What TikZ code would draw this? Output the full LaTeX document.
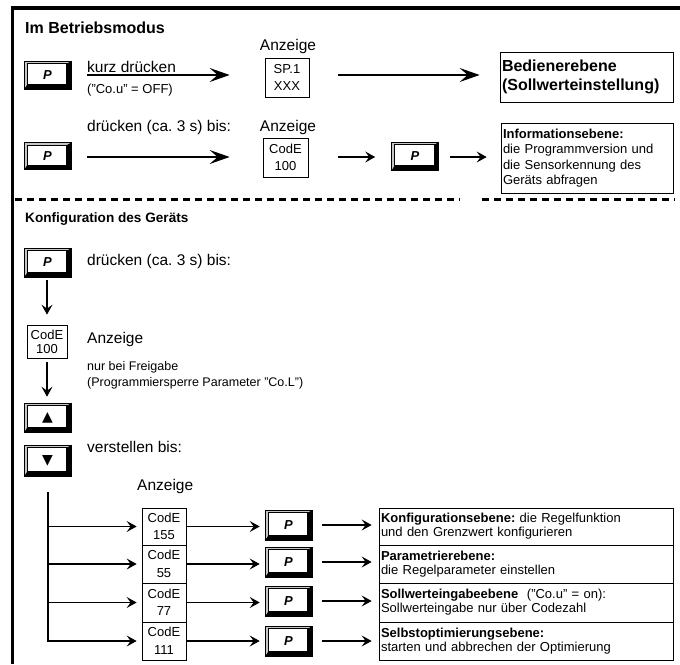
\documentclass[tikz,border=0pt]{standalone}
\usepackage{fontspec}
\setmainfont{Liberation Sans}
\newfontfamily\dejavu{DejaVu Sans}
\usetikzlibrary{arrows.meta}
\frenchspacing
\begin{document}
\begin{tikzpicture}[x=1pt,y=-1pt,
  lbl/.style={anchor=base west, inner sep=0pt, font=\fontsize{15.5}{18}\selectfont},
  lblc/.style={anchor=base, inner sep=0pt, font=\fontsize{15.5}{18}\selectfont},
  sml/.style={anchor=base west, inner sep=0pt, font=\fontsize{12.5}{16}\selectfont},
  ttl/.style={anchor=base west, inner sep=0pt, font=\fontsize{16}{18}\selectfont\bfseries},
  disp/.style={draw, line width=0.7pt, inner sep=0pt, align=center, font=\fontsize{13}{17.5}\selectfont},
  tbox/.style={draw, line width=0.7pt, inner xsep=2pt, inner ysep=0pt, align=left},
  conn/.style={line width=1.1pt},
  big/.style={conn, -{Stealth[length=20pt,width=14pt,inset=8pt]}},
  sm/.style={conn, -{Stealth[length=10pt,width=11pt,inset=4pt]}},
  pbtn/.style={draw, line width=0.6pt, minimum width=47pt, minimum height=28pt, inner sep=0pt,
    font=\fontsize{13}{13}\selectfont\bfseries\itshape,
    path picture={
      \path (path picture bounding box.south west) coordinate (ppsw)
            (path picture bounding box.north east) coordinate (ppne);
      \path ([shift={(3pt,4.5pt)}]ppsw) coordinate (ppisw)
            ([shift={(-4.5pt,-2.5pt)}]ppne) coordinate (ppine);
      \fill[black] (ppsw) -| (ppne) -- (ppine) |- (ppisw) -- cycle;
      \fill[gray!45] (ppsw) -- (ppisw) |- (ppine) -- (ppne) -| (ppsw) -- cycle;
      \draw[line width=0.5pt] (ppisw) rectangle (ppine);
    }},
]
\useasboundingbox (0,0) rectangle (680,664);
% frame
\draw[line width=3.5pt, line join=miter] (12.5,664) -- (12.5,8) -- (680,8);

% ---- section 1
\node[ttl] (t1) at (25,33) {Im Betriebsmodus};

\node[pbtn] (b1) at (47.5,75) {P};
\node[lbl] (kurz) at (87,72) {kurz drücken};
\node[sml, font=\fontsize{13}{16}\selectfont] (cou) at (87,93) {("Co.u" = OFF)};
\node[lblc] (anz1) at (288,50) {Anzeige};
\node[disp, minimum width=44pt, minimum height=39pt] (sp) at (287,77.5) {SP.1\\XXX};
\node[tbox, text width=169pt, minimum height=50pt, font=\fontsize{16}{19}\selectfont\bfseries] (bed) at (586.5,77) {Bedienerebene\\(Sollwerteinstellung)};
\draw[big, shorten <=16pt, shorten >=35pt] (b1.east) -- (b1.east -| sp.west);
\draw[big, shorten <=29pt, shorten >=20pt] (sp.east |- b1.east) -- (b1.east -| bed.west);

\node[lbl] (dr1) at (87,131) {drücken (ca. 3 s) bis:};
\node[lblc] (anz2) at (288,131) {Anzeige};
\node[pbtn, minimum height=27pt] (b2) at (47.5,156) {P};
\node[disp, minimum width=45pt, minimum height=39pt] (cd1) at (285.5,157.5) {CodE\\100};
\node[pbtn] (b3) at (415,156) {P};
\node[tbox, text width=168pt, minimum height=70pt, font=\fontsize{13}{15.3}\selectfont] (info) at (587,158) {\textbf{Informationsebene:}\\die Programmversion und\\die Sensorkennung des\\Geräts abfragen};
\draw[big, shorten <=16pt, shorten >=33pt] ([yshift=-1pt]b2.east) -- ([yshift=-1pt]b2.east -| cd1.west);
\draw[sm, shorten <=30pt, shorten >=16pt] ([yshift=-1pt]b2.east -| cd1.east) -- ([yshift=-1pt]b2.east -| b3.west);
\draw[sm, shorten <=11pt, shorten >=14pt] ([yshift=-1pt]b3.east) -- ([yshift=-1pt]b3.east -| info.west);

% dashed separator
\draw[line width=3pt, dash pattern=on 7pt off 5pt] (15,199) -- (460,199);
\draw[line width=3pt, dash pattern=on 7pt off 5pt] (482,199) -- (675,199);

% ---- section 2
\node[ttl, font=\fontsize{13.6}{17}\selectfont\bfseries] (t2) at (25,222) {Konfiguration des Geräts};
\node[pbtn, minimum height=29pt] (b4) at (47.5,262.5) {P};
\node[lbl] (dr2) at (87,265) {drücken (ca. 3 s) bis:};
\node[disp, minimum width=40pt, minimum height=33pt, font=\fontsize{13}{14}\selectfont] (cd2) at (47,341.5) {CodE\\100};
\node[lbl] (anz3) at (87,343) {Anzeige};
\node[sml] (nur1) at (87,370) {nur bei Freigabe};
\node[sml] (nur2) at (87,386) {(Programmiersperre Parameter "Co.L")};
\node[pbtn, minimum height=29pt, font=\dejavu\fontsize{14}{14}\selectfont] (up) at (47.5,417.5) {▲};
\node[pbtn, minimum height=31pt, font=\dejavu\fontsize{14}{14}\selectfont] (dn) at (47.5,460.5) {▼};
\node[lbl] (verst) at (87,452) {verstellen bis:};
\draw[sm, shorten <=3pt, shorten >=10pt] (b4.south -| cd2.north) -- (cd2.north);
\draw[sm, shorten <=4pt, shorten >=6pt] (cd2.south) -- (cd2.south |- up.north);

\node[lbl] (anz4) at (137,490) {Anzeige};

% code boxes
\node[disp, minimum width=44pt, minimum height=37pt] (c1) at (164,526.5) {CodE\\155};
\node[disp, minimum width=44pt, minimum height=38pt] (c2) at (164,564) {CodE\\55};
\node[disp, minimum width=44pt, minimum height=39pt] (c3) at (164,602.5) {CodE\\77};
\node[disp, minimum width=44pt, minimum height=38pt] (c4) at (164,641) {CodE\\111};

\node[pbtn, minimum height=30pt] (p1) at (288.5,525) {P};
\node[pbtn, minimum height=30pt] (p2) at (288.5,562) {P};
\node[pbtn, minimum height=30pt] (p3) at (288.5,601) {P};
\node[pbtn, minimum height=30pt] (p4) at (288.5,641) {P};

\begin{scope}[every node/.style={tbox, text width=290pt, font=\fontsize{13}{14}\selectfont}]
\node[minimum height=37pt] (r1) at (526,526.5) {\textbf{Konfigurationsebene:} die Regelfunktion\\und den Grenzwert konfigurieren};
\node[minimum height=38pt] (r2) at (526,564) {\textbf{Parametrierebene:}\\die Regelparameter einstellen};
\node[minimum height=39pt] (r3) at (526,602.5) {\textbf{Sollwerteingabeebene}\ \ ("Co.u" = on):\\Sollwerteingabe nur über Codezahl};
\node[minimum height=38pt] (r4) at (526,641) {\textbf{Selbstoptimierungsebene:}\\starten und abbrechen der Optimierung};
\end{scope}

\coordinate (bt) at (48,492);
\draw[conn] (bt) -- (bt |- c1.west);
\draw[sm, shorten >=5pt] (bt |- c1.west) -- (c1.west);
\draw[sm, shorten >=5pt] (bt |- c2.west) -- (c2.west);
\draw[sm, shorten >=5pt] (bt |- c3.west) -- (c3.west);
\draw[sm, shorten >=5pt] (bt) |- (c4.west);

\foreach \i in {1,2,3,4}{
  \draw[sm, shorten >=5pt] (c\i.east) -- (c\i.east -| p\i.west);
  \draw[sm, shorten <=10pt, shorten >=7pt] (p\i.east) -- (p\i.east -| r\i.west);
}
\end{tikzpicture}
\end{document}
